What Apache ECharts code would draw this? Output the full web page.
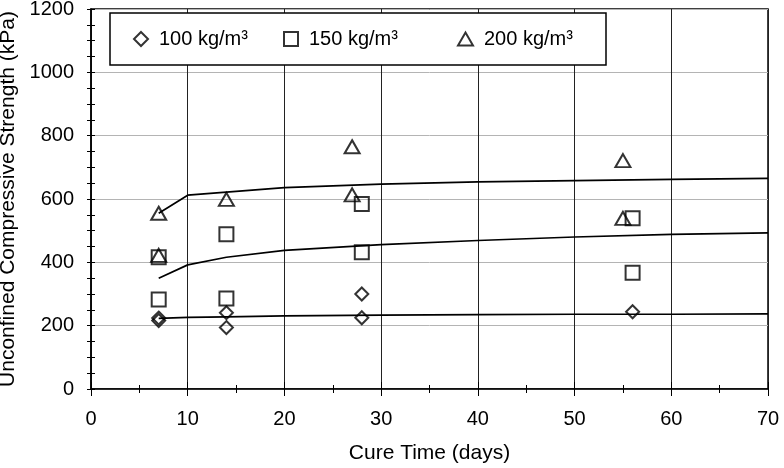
<!DOCTYPE html>
<html>
<head>
<meta charset="utf-8">
<script src="https://cdn.jsdelivr.net/npm/echarts@6/dist/echarts.min.js"></script>
<style>html,body{margin:0;padding:0;background:#fff;}#c{width:784px;height:468px;}</style>
</head>
<body>
<div id="c"></div>
<script>
// ---- data ----
const seriesNames = ['100 kg/m³', '150 kg/m³', '200 kg/m³'];
const pts100 = [[7,216],[7,224],[14,241],[14,194],[28,300],[28,225],[56,244]];
const pts150 = [[7,283],[7,416],[14,489],[14,286],[28,584],[28,432],[56,539],[56,367]];
const pts200 = [[7,555],[7,422],[14,599],[27,765],[27,613],[55,721],[55,539]];
const curveDays = [7,10,14,20,30,40,50,60,70];
const curve100 = [223,226,228,231,233,235,236,236,237];
const curve150 = [350,392,416,438,456,469,480,488,493];
const curve200 = [555,612,622,636,647,654,658,662,665];
const xTicks = [0,10,20,30,40,50,60,70];
const yTicks = [0,200,400,600,800,1000,1200];

const FONT = '"Liberation Sans", Arial, sans-serif';
const chart = echarts.init(document.getElementById('c'), null, {renderer:'canvas'});
const pair = (days, vals) => days.map((d,i)=>[d, vals[i]]);
const hollow = {color:'rgba(255,255,255,0)', borderColor:'#000', borderWidth:2};

function scatter(name, data, symbol, size){
  return {type:'scatter', name, data, symbol, symbolSize:size, itemStyle:hollow, z:5, emphasis:{disabled:true}};
}
function curve(data){
  return {type:'line', data, showSymbol:false, symbol:'none', lineStyle:{color:'#000', width:1.7}, z:3, silent:true};
}
function legendAt(left, name, icon, w, h){
  return {show:true, left, top:24, data:[{name, icon}], itemWidth:w, itemHeight:h,
    textStyle:{fontFamily:FONT, fontSize:20, color:'#000', padding:[0,0,0,6]}, selectedMode:false, z:10};
}
const plain = v => String(v);

const baseX = {type:'value', min:xTicks[0], max:xTicks[xTicks.length-1], interval:10, gridIndex:0};
const baseY = {type:'value', min:yTicks[0], max:yTicks[yTicks.length-1], interval:200, gridIndex:0};

chart.setOption({
  animation:false,
  backgroundColor:'#fff',
  grid:{left:91, right:16, top:9, bottom:79, containLabel:false, outerBoundsMode:'none',
    show:true, borderColor:'#000', borderWidth:1.5, backgroundColor:'transparent'},
  xAxis:[
    Object.assign({}, baseX, {position:'bottom',
      name:'Cure Time (days)', nameLocation:'middle', nameGap:54,
      nameTextStyle:{fontFamily:FONT, fontSize:21, color:'#000'},
      axisLine:{lineStyle:{color:'#000', width:1.5}},
      axisTick:{show:true, inside:false, length:7, lineStyle:{color:'#000', width:1}},
      minorTick:{show:true, splitNumber:2, length:4, lineStyle:{color:'#000', width:1}},
      axisLabel:{fontFamily:FONT, fontSize:20, color:'#000', margin:20, formatter:plain},
      splitLine:{show:true, lineStyle:{color:'#222', width:1}}}),
    Object.assign({}, baseX, {position:'bottom', offset:0,
      axisLine:{show:false},
      axisTick:{show:true, inside:true, length:7, lineStyle:{color:'#000', width:1}},
      minorTick:{show:true, splitNumber:2, length:4, lineStyle:{color:'#000', width:1}},
      axisLabel:{show:false}, splitLine:{show:false}})
  ],
  yAxis:[
    Object.assign({}, baseY, {position:'left',
      name:'Unconfined Compressive Strength (kPa)', nameLocation:'middle', nameGap:70,
      nameTextStyle:{fontFamily:FONT, fontSize:21, color:'#000'},
      axisLine:{show:true, lineStyle:{color:'#000', width:1.5}},
      axisTick:{show:true, inside:false, length:4, lineStyle:{color:'#000', width:1}},
      minorTick:{show:true, splitNumber:4, length:4, lineStyle:{color:'#000', width:1}},
      axisLabel:{fontFamily:FONT, fontSize:20, color:'#000', margin:17, formatter:plain},
      splitLine:{show:true, lineStyle:{color:'#b4b4b4', width:1}}}),
    Object.assign({}, baseY, {position:'left', offset:0,
      axisLine:{show:false},
      axisTick:{show:true, inside:true, length:4, lineStyle:{color:'#000', width:1}},
      minorTick:{show:true, splitNumber:4, length:4, lineStyle:{color:'#000', width:1}},
      axisLabel:{show:false}, splitLine:{show:false}})
  ],
  legend:[
    legendAt(128, seriesNames[0], 'diamond', 14, 14),
    legendAt(278, seriesNames[1], 'rect', 14, 14),
    legendAt(452, seriesNames[2], 'triangle', 15, 13)
  ],
  graphic:[{type:'rect', z:8, shape:{x:110, y:13, width:496, height:52},
    style:{fill:'#fff', stroke:'#000', lineWidth:1.5}}],
  series:[
    curve(pair(curveDays, curve100)),
    curve(pair(curveDays, curve150)),
    curve(pair(curveDays, curve200)),
    scatter(seriesNames[0], pts100, 'diamond', [13,13]),
    scatter(seriesNames[1], pts150, 'rect', [14,14]),
    scatter(seriesNames[2], pts200, 'triangle', [15,13])
  ]
});
</script>
</body>
</html>
